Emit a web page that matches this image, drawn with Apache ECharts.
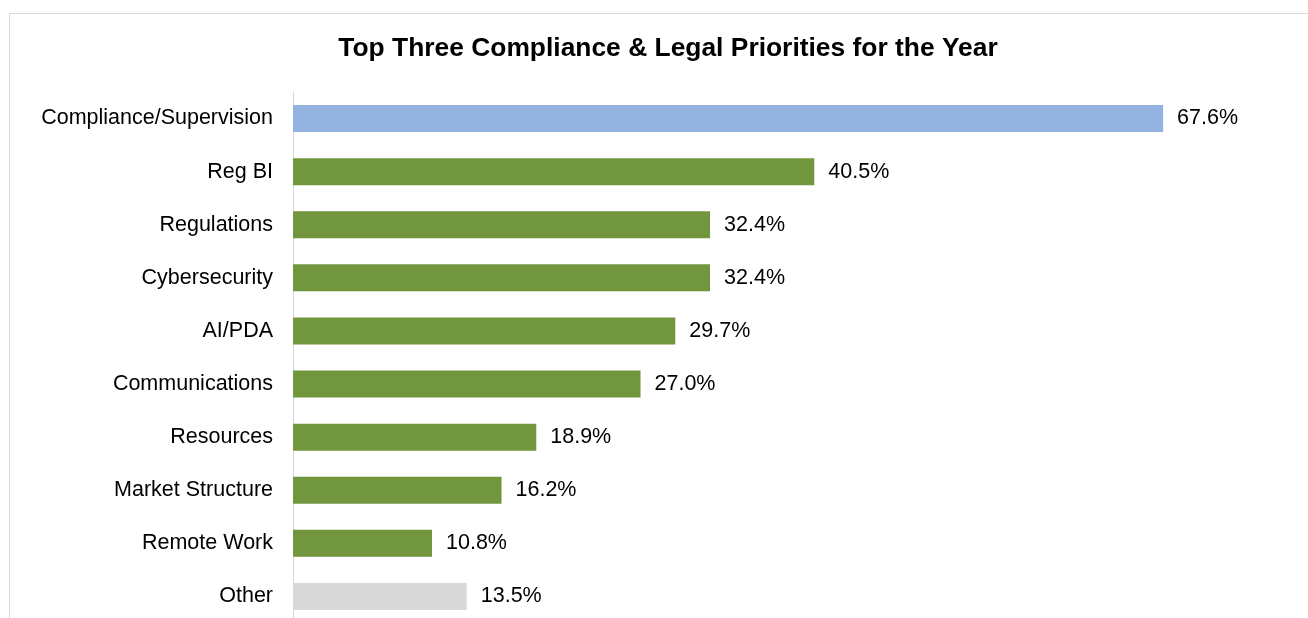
<!DOCTYPE html>
<html>
<head>
<meta charset="utf-8">
<script src="https://cdn.jsdelivr.net/npm/echarts@6/dist/echarts.min.js"></script>
<style>
  html, body { margin: 0; padding: 0; background: #fff; overflow: hidden; }
  #chart { width: 1308px; height: 640px; }
</style>
</head>
<body>
<div id="chart"></div>
<script>
// Survey categories, top to bottom
const categories = [
  'Compliance/Supervision', 'Reg BI', 'Regulations', 'Cybersecurity', 'AI/PDA',
  'Communications', 'Resources', 'Market Structure', 'Remote Work', 'Other'
];
// Share of respondents (%)
const shares = [67.6, 40.5, 32.4, 32.4, 29.7, 27.0, 18.9, 16.2, 10.8, 13.5];
// Bar colour group for each category
const groups = ['lead', 'main', 'main', 'main', 'main', 'main', 'main', 'main', 'main', 'other'];

const groupColors = { lead: '#95B3E0', main: '#71963D', other: '#D9D9D9' };

const chart = echarts.init(document.getElementById('chart'), null, { renderer: 'canvas' });

chart.setOption({
  animation: false,
  backgroundColor: '#ffffff',
  graphic: [{
    type: 'rect',
    shape: { x: 9.5, y: 13.5, width: 1400, height: 700 },
    style: { fill: 'none', stroke: '#D9D9D9', lineWidth: 1 },
    silent: true,
    z: -1
  }],
  title: {
    text: 'Top Three Compliance & Legal Priorities for the Year',
    left: 663,
    textAlign: 'center',
    top: 31,
    textStyle: {
      fontFamily: 'Liberation Sans, Arial, sans-serif',
      fontSize: 26.4,
      fontWeight: 'bold',
      color: '#000000'
    }
  },
  grid: { left: 293, top: 92, width: 901, height: 531, containLabel: false },
  xAxis: {
    type: 'value',
    min: 0,
    max: 70,
    show: false
  },
  yAxis: {
    type: 'category',
    data: categories,
    inverse: true,
    axisLine: { show: true, lineStyle: { color: '#D9D9D9', width: 1 } },
    axisTick: { show: false },
    axisLabel: {
      margin: 20,
      fontFamily: 'Liberation Sans, Arial, sans-serif',
      fontSize: 21.5,
      color: '#000000'
    }
  },
  series: [{
    type: 'bar',
    barWidth: 27,
    data: shares.map((v, i) => ({ value: v, itemStyle: { color: groupColors[groups[i]] } })),
    label: {
      show: true,
      position: 'right',
      distance: 14,
      formatter: p => p.value.toFixed(1) + '%',
      fontFamily: 'Liberation Sans, Arial, sans-serif',
      fontSize: 21.5,
      color: '#000000'
    }
  }]
});
</script>
</body>
</html>
